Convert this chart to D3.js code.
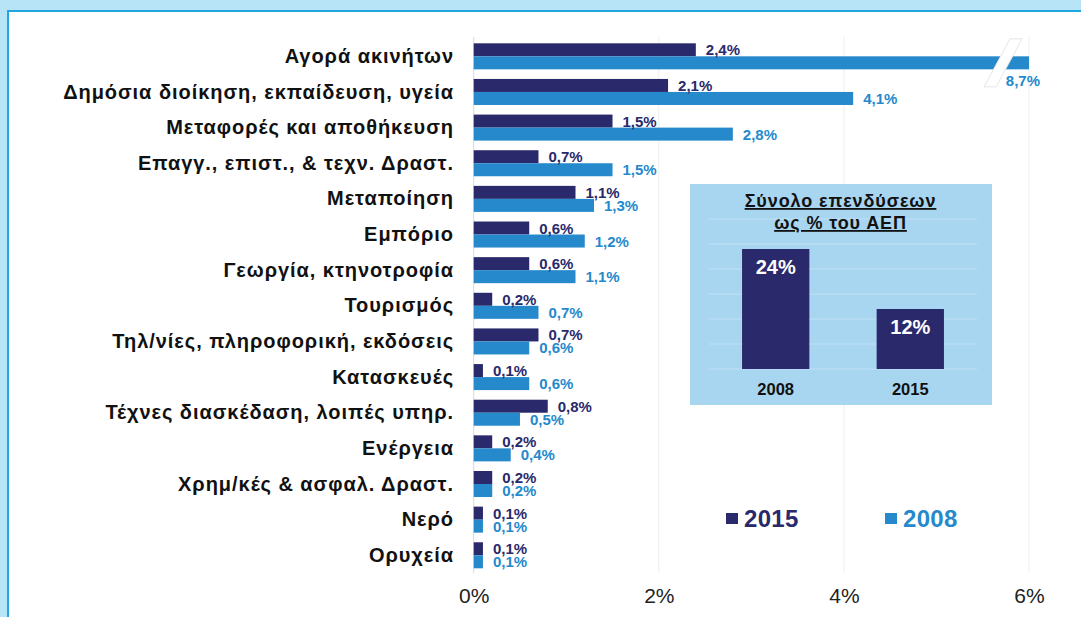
<!DOCTYPE html>
<html><head><meta charset="utf-8">
<script src="https://cdn.jsdelivr.net/npm/d3@7"></script>
<style>
html,body{margin:0;padding:0;background:#fff;}
svg{display:block;font-family:"Liberation Sans",Arial,Helvetica,sans-serif;}
</style></head>
<body>
<svg id="c" width="1081" height="617"></svg>
<script>
const categories = ["Αγορά ακινήτων","Δημόσια διοίκηση, εκπαίδευση, υγεία","Μεταφορές και αποθήκευση","Επαγγ., επιστ., & τεχν. Δραστ.","Μεταποίηση","Εμπόριο","Γεωργία, κτηνοτροφία","Τουρισμός","Τηλ/νίες, πληροφορική, εκδόσεις","Κατασκευές","Τέχνες διασκέδαση, λοιπές υπηρ.","Ενέργεια","Χρημ/κές & ασφαλ. Δραστ.","Νερό","Ορυχεία"];
const values2015 = [2.4,2.1,1.5,0.7,1.1,0.6,0.6,0.2,0.7,0.1,0.8,0.2,0.2,0.1,0.1];
const values2008 = [8.7,4.1,2.8,1.5,1.3,1.2,1.1,0.7,0.6,0.6,0.5,0.4,0.2,0.1,0.1];
const seriesNames = ["2015","2008"];
const xTicks = [0,2,4,6];
const insetYears = ["2008","2015"];
const insetValues = [24,12];
const insetTitle = ["Σύνολο επενδύσεων","ως % του ΑΕΠ"];
const insetGrid = [0,5,10,15,20,25,30];

const DARK = "#29296b", LIGHT = "#2589cc";
const colors = {"2015":DARK,"2008":LIGHT};
const svg = d3.select("#c");

// frame
svg.append("rect").attr("x",0).attr("y",0).attr("width",1081).attr("height",11).attr("fill","#b8e4f8");
svg.append("rect").attr("x",0).attr("y",0).attr("width",7).attr("height",617).attr("fill","#b8e4f8");
svg.append("rect").attr("x",7).attr("y",10).attr("width",1074).attr("height",2).attr("fill","#22a6e0");
svg.append("rect").attr("x",7).attr("y",10).attr("width",2).attr("height",607).attr("fill","#22a6e0");

const x = d3.scaleLinear().domain([0,6]).range([473.7,1029]);
const y = d3.scaleBand().domain(categories).range([38.5,573.1]).paddingInner(0.27).paddingOuter(0.135);
const ys = d3.scaleBand().domain(seriesNames).range([0,y.bandwidth()]);

// gridlines
svg.append("g").selectAll("line").data(xTicks).join("line")
  .attr("x1",d=>x(d)).attr("x2",d=>x(d)).attr("y1",37).attr("y2",573)
  .attr("stroke",d=>d===0?"#d9d9d9":"#eeeeee").attr("stroke-width",1);

// x axis labels
const xAxis = d3.axisBottom(x).tickValues(xTicks).tickFormat(d=>d+"%").tickSize(0).tickPadding(0);
const gx = svg.append("g").attr("transform","translate(0,588)").call(xAxis);
gx.select(".domain").remove();
gx.selectAll("text").attr("font-size",21).attr("fill","#222").attr("font-family","Liberation Sans, Arial, sans-serif");

// category labels
svg.append("g").selectAll("text").data(categories).join("text")
  .attr("x",454).attr("y",d=>y(d)+y.bandwidth()/2+6.6)
  .attr("text-anchor","end").attr("font-size",20).attr("font-weight","bold").attr("fill","#111")
  .attr("letter-spacing",0.95)
  .text(d=>d);

const rows = categories.map((c,i)=>({c, v:{"2015":values2015[i],"2008":values2008[i]}}));
const xmax = x.domain()[1];

const g = svg.append("g");
seriesNames.forEach(s=>{
  g.append("g").selectAll("rect").data(rows).join("rect")
    .attr("x",x(0)).attr("y",d=>y(d.c)+ys(s))
    .attr("width",d=>x(Math.min(d.v[s],xmax))-x(0)).attr("height",ys.bandwidth())
    .attr("fill",colors[s]);
});

// axis break on overflowing bars
rows.filter(d=>d.v["2008"]>xmax).forEach(d=>{
  const cy = y(d.c)+ys("2008")+ys.bandwidth()/2;
  const cx = x(5.72);
  const h = 24, w = 6, sk = 13;
  const pts = [[cx-sk-w,cy+h],[cx+sk-w,cy-h],[cx+sk+w,cy-h],[cx-sk+w,cy+h]];
  svg.append("polygon").attr("points",pts.map(p=>p.join(",")).join(" "))
    .attr("fill","#fff").attr("stroke","#e6e6e6").attr("stroke-width",1);
});

// data labels
seriesNames.forEach(s=>{
  svg.append("g").selectAll("text").data(rows).join("text")
    .attr("x",d=>d.v[s]>xmax ? x(xmax)+11 : x(d.v[s])+10)
    .attr("y",d=>{const c=y(d.c)+ys(s)+ys.bandwidth()/2; return d.v[s]>xmax ? c+23 : c+5.5;})
    .attr("text-anchor",d=>d.v[s]>xmax?"end":"start")
    .attr("font-size",15).attr("font-weight","bold").attr("fill",colors[s])
    .text(d=>d.v[s].toFixed(1).replace(".",",")+"%");
});

// inset
const inset = svg.append("g");
inset.append("rect").attr("x",690).attr("y",184).attr("width",302).attr("height",221).attr("fill","#a8d5f0");
const ix = d3.scaleBand().domain(insetYears).range([708.4,977.6]).paddingInner(0.5).paddingOuter(0.25);
const iy = d3.scaleLinear().domain([0,30]).range([369,219]);
inset.append("g").selectAll("line").data(insetGrid).join("line")
  .attr("x1",709).attr("x2",977).attr("y1",d=>iy(d)).attr("y2",d=>iy(d))
  .attr("stroke","#bfe1f5").attr("stroke-width",1);
inset.append("g").selectAll("text").data(insetTitle).join("text")
  .attr("x",840.5).attr("y",(d,i)=>207+i*22).attr("text-anchor","middle")
  .attr("font-size",18).attr("font-weight","bold").attr("fill","#111").attr("letter-spacing",0.9)
  .attr("text-decoration","underline").text(d=>d);
const idata = insetYears.map((yv,i)=>({y:yv,v:insetValues[i]}));
inset.append("g").selectAll("rect").data(idata).join("rect")
  .attr("x",d=>ix(d.y)).attr("y",d=>iy(d.v)).attr("width",ix.bandwidth()).attr("height",d=>iy(0)-iy(d.v))
  .attr("fill",DARK);
inset.append("g").selectAll("text").data(idata).join("text")
  .attr("x",d=>ix(d.y)+ix.bandwidth()/2).attr("y",d=>iy(d.v)+25).attr("text-anchor","middle")
  .attr("font-size",20).attr("font-weight","bold").attr("fill","#fff").text(d=>d.v+"%");
inset.append("g").selectAll("text.cat").data(insetYears).join("text")
  .attr("x",d=>ix(d)+ix.bandwidth()/2).attr("y",395).attr("text-anchor","middle")
  .attr("font-size",16.5).attr("font-weight","bold").attr("fill","#111").text(d=>d);

// legend
const legendX = {"2015":726,"2008":885};
seriesNames.forEach(s=>{
  svg.append("rect").attr("x",legendX[s]).attr("y",513).attr("width",12).attr("height",11).attr("fill",colors[s]);
  svg.append("text").attr("x",legendX[s]+18).attr("y",527).attr("font-size",24).attr("font-weight","bold")
    .attr("letter-spacing",0.3).attr("fill",colors[s]).text(s);
});
</script>
</body></html>
